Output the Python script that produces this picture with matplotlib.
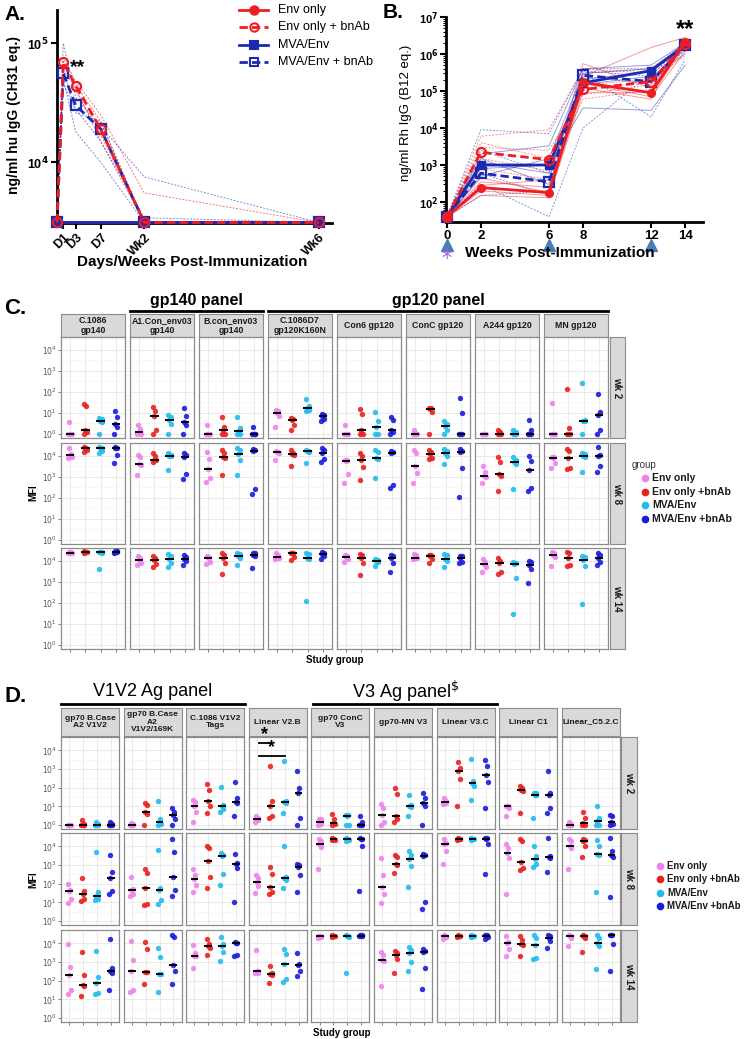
import numpy as np
import matplotlib
matplotlib.use('Agg')
import matplotlib.pyplot as plt
from matplotlib.lines import Line2D
from matplotlib.transforms import blended_transform_factory
from matplotlib.ticker import FixedLocator, NullFormatter

# ---------------- data ----------------
# Panel A: CH31 levels (ng/ml), days post infusion
days_A = [0, 1, 3, 7, 14, 42]
days_A_base = [0, 14, 42]
env_A = [3100, 3100, 3100]
mva_A = [3100, 3100, 3100]
env_bnab_A = [3100, 69000, 44000, 19000, 3100, 3100]
mva_bnab_A = [3100, 56000, 30000, 19000, 3100, 3100]
ind_env_bnab_A = [
    [3100, 75000, 48000, 25000, 5500, 3100],
    [3100, 65000, 45000, 22000, 3100, 3100],
    [3100, 70000, 40000, 17000, 3100, 3100],
    [3100, 60000, 42000, 15000, 3100, 3100],
]
ind_mva_bnab_A = [
    [3100, 100000, 35000, 20000, 7500, 3100],
    [3100, 50000, 18000, 10000, 3100, 3100],
    [3100, 45000, 28000, 15000, 3400, 3100],
    [3100, 60000, 26000, 22000, 3100, 3100],
]
xt_A = [1, 3, 7, 14, 42]
xl_A = ['D1', 'D3', 'D7', 'Wk2', 'Wk6']

# Panel B: Rh IgG (ng/ml), weeks
weeks_B = [0, 2, 6, 8, 12, 14]
env_B = [40, 245, 180, 170000, 90000, 2100000]
env_bnab_B = [40, 2200, 1400, 110000, 180000, 1900000]
mva_B = [40, 1000, 1000, 165000, 355000, 1700000]
mva_bnab_B = [40, 600, 350, 265000, 180000, 1700000]
ind_env_B = [
    [40, 200, 150, 120000, 60000, 2500000],
    [40, 350, 250, 250000, 1500000, 2800000],
    [40, 150, 130, 90000, 90000, 1500000],
    [40, 280, 400, 550000, 120000, 2000000],
    [40, 450, 180, 160000, 70000, 1200000],
]
ind_env_bnab_B = [
    [40, 6000, 9000, 400000, 300000, 2200000],
    [40, 3000, 2500, 80000, 150000, 1800000],
    [40, 1500, 700, 60000, 110000, 2500000],
    [40, 800, 400, 300000, 400000, 1500000],
    [40, 4000, 1500, 150000, 200000, 900000],
]
ind_mva_B = [
    [40, 2000, 3300, 400000, 500000, 2000000],
    [40, 800, 1000, 35000, 30000, 500000],
    [40, 1200, 600, 200000, 350000, 1500000],
    [40, 500, 1500, 300000, 400000, 1800000],
    [40, 1500, 300, 150000, 250000, 1000000],
]
ind_mva_bnab_B = [
    [40, 9000, 7000, 400000, 400000, 2000000],
    [40, 300, 40, 10000, 300000, 1200000],
    [40, 150, 200, 300000, 20000, 700000],
    [40, 600, 150, 250000, 150000, 1600000],
    [40, 2500, 600, 350000, 250000, 2200000],
]
immun_weeks = [0, 6, 12]

groups = ['Env only', 'Env only +bnAb', 'MVA/Env', 'MVA/Env +bnAb']
weeks_lbl = ['wk 2', 'wk 8', 'wk 14']

# Panel C: MFI per antigen, [Env only, Env+bnAb, MVA/Env, MVA/Env+bnAb]
C_antigens = ['C.1086\ngp140', 'A1.Con_env03\ngp140', 'B.con_env03\ngp140',
              'C.1086D7\ngp120K160N', 'Con6 gp120', 'ConC gp120', 'A244 gp120', 'MN gp120']
C_wk2 = [
    [[1, 1, 1, 1, 3.5], [1, 1.2, 1.5, 20, 25], [1, 3.5, 4, 5, 5.5], [1, 2, 3, 6, 12]],
    [[1, 1, 1.2, 1.6, 2.5], [1, 1.5, 7, 12, 18], [1, 3, 4.5, 6, 8], [1, 2.5, 3.5, 7, 17]],
    [[1, 1, 1, 1, 2.5], [1, 1, 1.5, 2, 6.5], [1, 1, 1.4, 1.8, 6], [1, 1, 1, 1, 2]],
    [[2, 7, 10, 12, 14], [1.5, 2.5, 4.5, 5, 5.5], [12, 14, 17, 20, 45], [4, 5, 7, 8, 9]],
    [[1, 1, 1, 1, 2.5], [1, 1, 1.5, 9, 15], [1, 1, 2, 4, 11], [1, 1.2, 1.5, 4.5, 6]],
    [[1, 1, 1, 1, 1.5], [1, 11, 15, 16, 17], [1, 1.5, 2.3, 3, 4], [1, 1, 1, 10, 50]],
    [[1, 1, 1, 1, 1], [1, 1, 1, 1.2, 1.5], [1, 1, 1, 1.2, 1.5], [1, 1, 1, 1.5, 4.5]],
    [[1, 1, 1, 1, 28], [1, 1, 1, 1.8, 140], [1, 4, 4.2, 4.5, 260], [1, 1.5, 8, 11, 75]],
]
C_wk8 = [
    [[7500, 9000, 10500, 12000, 24000], [15000, 18000, 22000, 24000, 26000], [14000, 17000, 22000, 24000, 25000], [4500, 11000, 23000, 24000, 25000]],
    [[1200, 3500, 4200, 9000, 11000], [5000, 6000, 6500, 10000, 13000], [2000, 9500, 10000, 11000, 13000], [800, 1300, 9000, 11000, 13000]],
    [[550, 900, 2200, 7000, 15000], [1200, 8000, 9000, 14000, 18000], [1200, 6500, 12000, 18000, 23000], [150, 270, 17000, 18000, 20000]],
    [[6000, 14000, 14500, 15000, 16000], [3200, 11000, 12000, 14000, 18000], [4500, 15000, 16000, 17000, 18000], [5000, 7000, 13000, 18000, 22000]],
    [[500, 1300, 5500, 6000, 6500], [700, 2800, 6000, 10000, 13000], [850, 7000, 7500, 15000, 18000], [300, 400, 14000, 15000, 17000]],
    [[500, 1500, 3100, 14000, 19000], [7000, 8000, 12000, 15000, 19000], [4000, 10000, 14000, 17000, 20000], [110, 2600, 15000, 17000, 20000]],
    [[500, 1000, 1100, 1700, 3200], [210, 1100, 1400, 5000, 8500], [270, 4000, 5000, 6000, 8500], [210, 300, 2000, 5500, 10000]],
    [[2700, 4500, 8000, 8500, 9000], [2200, 2600, 8000, 16000, 20000], [1600, 9000, 10000, 12000, 13000], [1600, 3200, 10000, 11000, 25000]],
]
C_wk14 = [
    [[22000, 23000, 24000, 25000, 26000], [24000, 25000, 26000, 27000, 28000], [4000, 22000, 25000, 26000, 27000], [22000, 25000, 27000, 28000, 29000]],
    [[6500, 8000, 11000, 13000, 17000], [5000, 7000, 11000, 13000, 17000], [4800, 8000, 12000, 16000, 20000], [6000, 10000, 12000, 15000, 18000]],
    [[7000, 9000, 13000, 15000, 17000], [2400, 8000, 13000, 18000, 22000], [6000, 14000, 16000, 20000, 22000], [4500, 16000, 19000, 22000, 24000]],
    [[12000, 14000, 15000, 18000, 22000], [11000, 15000, 22000, 23000, 24000], [120, 12000, 13000, 20000, 24000], [12000, 16000, 20000, 22000, 25000]],
    [[9000, 12000, 15000, 17000, 18000], [2000, 7500, 13000, 18000, 21000], [5500, 9000, 10000, 11000, 12000], [3000, 8000, 13000, 16000, 18000]],
    [[12000, 13000, 14000, 18000, 20000], [8000, 12000, 17000, 18000, 19000], [5000, 10000, 12000, 18000, 21000], [7500, 9000, 14000, 16000, 17000]],
    [[3000, 5000, 7000, 9000, 12000], [2200, 3000, 7500, 10000, 14000], [30, 1500, 7000, 8000, 9000], [850, 3800, 6500, 9000, 10000]],
    [[5500, 15000, 19000, 22000, 25000], [5500, 6500, 14000, 22000, 25000], [85, 5500, 11000, 15000, 17000], [6000, 9000, 14000, 18000, 22000]],
]

# Panel D
D_antigens = ['gp70 B.Case\nA2 V1V2', 'gp70 B.Case\nA2\nV1V2/169K', 'C.1086 V1V2\nTags', 'Linear V2.B',
              'gp70 ConC\nV3', 'gp70-MN V3', 'Linear V3.C', 'Linear C1', 'Linear_C5.2.C']
D_wk2 = [
    [[1, 1, 1, 1, 1], [1, 1, 1, 1.2, 1.8], [1, 1, 1, 1.2, 1.5], [1, 1, 1, 1.2, 1.5]],
    [[1, 1, 1, 1.2, 1.3], [1, 4, 5, 12, 15], [1, 1.2, 1.5, 2, 20], [1, 2, 3.5, 5, 8]],
    [[1.5, 5, 10, 18, 22], [4.5, 10, 20, 80, 150], [5, 7, 10, 12, 110], [3, 15, 18, 30, 200]],
    [[1.5, 1.8, 2, 2.5, 3], [2.5, 3, 11, 20, 1400], [4.5, 16, 18, 20, 2800], [1, 2.5, 50, 100, 750]],
    [[1, 1.2, 1.4, 2, 2.2], [1, 1.2, 1.3, 2, 4], [1, 1, 3.2, 3.3, 3.5], [1, 1, 1, 1.5, 3]],
    [[1, 1.5, 3.3, 8, 14], [1.5, 2, 3, 45, 95], [3, 9, 10, 12, 40], [1, 11, 15, 30, 55]],
    [[14, 15, 17, 20, 30], [10, 300, 800, 1200, 2500], [23, 120, 180, 240, 3500], [8, 200, 480, 1400, 3000]],
    [[3, 8, 10, 10, 11], [4.5, 70, 80, 100, 130], [2.5, 40, 42, 50, 55], [4.5, 8, 40, 50, 750]],
    [[1, 1, 1, 1.2, 1.5], [1, 1, 1.3, 2.5, 5], [1, 1, 1.6, 2.5, 11], [1, 1.2, 1.5, 3, 3.5]],
]
D_wk8 = [
    [[9, 15, 40, 45, 95], [12, 15, 27, 40, 200], [13, 15, 21, 35, 5000], [28, 40, 210, 430, 3300]],
    [[22, 30, 45, 50, 220], [7, 8, 60, 400, 600], [8, 13, 45, 60, 6800], [22, 45, 220, 5000, 24000]],
    [[35, 90, 170, 300, 600], [60, 220, 1700, 8000, 10000], [90, 350, 3000, 3500, 4500], [10, 700, 1200, 1300, 3800]],
    [[33, 80, 130, 200, 300], [30, 35, 65, 350, 750], [60, 150, 200, 230, 10000], [38, 300, 800, 1000, 1200]],
    [[600, 9000, 13000, 20000, 24000], [22000, 23000, 25000, 26000, 27000], [20000, 22000, 25000, 26000, 27000], [42, 11000, 25000, 26000, 27000]],
    [[9, 30, 65, 300, 2500], [380, 1000, 1150, 2800, 3300], [65, 900, 2100, 3500, 6000], [4.5, 10, 3000, 3300, 3800]],
    [[1100, 6000, 14000, 16000, 24000], [23000, 24000, 25000, 26000, 27000], [23000, 24000, 25000, 26000, 27000], [330, 13000, 26000, 27000, 28000]],
    [[30, 2500, 4700, 8000, 14000], [550, 700, 1500, 20000, 24000], [800, 1200, 2100, 3000, 11000], [430, 2500, 2800, 3000, 27000]],
    [[650, 8000, 11000, 20000, 25000], [2700, 11000, 20000, 22000, 24000], [37, 3500, 3700, 10000, 22000], [20, 2800, 3500, 6000, 27000]],
]
D_wk14 = [
    [[19, 32, 210, 550, 9500], [15, 50, 60, 210, 3500], [19, 22, 80, 160, 3800], [32, 250, 320, 500, 17000]],
    [[25, 32, 320, 1300, 14000], [65, 300, 310, 5000, 12000], [25, 230, 240, 1800, 5500], [65, 330, 700, 22000, 27000]],
    [[500, 2000, 2200, 3200, 8500], [2500, 6000, 7000, 9000, 18000], [1200, 3500, 7000, 9000, 22000], [2200, 2400, 10500, 11000, 12000]],
    [[250, 270, 330, 350, 4300], [80, 200, 220, 250, 600], [90, 120, 800, 2800, 5000], [190, 350, 700, 800, 3200]],
    [[20000, 22000, 24000, 25000, 26000], [23000, 24000, 25000, 26000, 27000], [270, 22000, 25000, 26000, 27000], [24000, 25000, 26000, 27000, 28000]],
    [[55, 1100, 1300, 2500, 3300], [250, 1400, 2500, 3000, 4000], [350, 1000, 3000, 4500, 6500], [35, 500, 3500, 4000, 5000]],
    [[18000, 22000, 25000, 26000, 27000], [22000, 24000, 25000, 26000, 27000], [22000, 24000, 25000, 26000, 27000], [18000, 22000, 26000, 27000, 28000]],
    [[2000, 5000, 10000, 12000, 25000], [2000, 8000, 9000, 15000, 26000], [1500, 1700, 8500, 20000, 27000], [6000, 13000, 20000, 25000, 27000]],
    [[7000, 20000, 25000, 26000, 27000], [3600, 20000, 25000, 26000, 27000], [420, 7000, 11000, 20000, 27000], [320, 9500, 27000, 28000, 29000]],
]

# ---------------- style ----------------
RED = '#EE1D23'
BLUE = '#1B2AB0'
GCOL = ['#EE82EE', '#E8201F', '#20BCEE', '#1A1ADC']
NARROW = ['Liberation Sans Narrow', 'Liberation Sans', 'DejaVu Sans']
ARIAL = ['Liberation Sans', 'DejaVu Sans']
JIT = [-0.12, 0.10, -0.03, 0.06, -0.08]

W, H = 745, 1039
fig = plt.figure(figsize=(W / 100, H / 100), dpi=100)


def ax_px(l, t, w, h):
    return fig.add_axes([l / W, 1 - (t + h) / H, w / W, h / H])


def ftext(x, y, s, **kw):
    return fig.text(x / W, 1 - y / H, s, **kw)


# ---------------- Panel A ----------------
axA = ax_px(57, 10, 275, 213)
axA.set_yscale('log')
axA.set_xlim(0, 44.1)
axA.set_ylim(3070, 10 ** 5.28)
for v in ind_env_bnab_A:
    axA.plot(days_A, v, color=RED, lw=0.7, ls=(0, (2, 1.5)), alpha=0.6, zorder=2)
for v in ind_mva_bnab_A:
    axA.plot(days_A, v, color=BLUE, lw=0.7, ls=(0, (2, 1.5)), alpha=0.55, zorder=2)
axA.plot(days_A_base, env_A, color=RED, lw=2, marker='o', ms=5.5, clip_on=False, zorder=4)
axA.plot(days_A_base, mva_A, color=BLUE, lw=2, marker='s', ms=5.5, clip_on=False, zorder=4)
axA.plot(days_A, mva_bnab_A, color=BLUE, lw=2, ls=(0, (3, 1.5)), marker='s', ms=6.5,
         mfc='none', mew=1.6, clip_on=False, zorder=5)
axA.plot(days_A, env_bnab_A, color=RED, lw=2, ls=(0, (3, 1.5)), marker='o', ms=6.5,
         mfc='none', mew=1.6, clip_on=False, zorder=6)
for s in ['top', 'right']:
    axA.spines[s].set_visible(False)
for s in ['left', 'bottom']:
    axA.spines[s].set_linewidth(2)
axA.set_yticks([1e4, 1e5])
axA.set_yticklabels(['10$^\\mathbf{4}$', '10$^\\mathbf{5}$'], fontsize=9, fontweight='bold', family=ARIAL)
axA.yaxis.set_minor_locator(FixedLocator([]))
axA.set_xticks(xt_A)
axA.set_xticklabels(xl_A, rotation=45, ha='right', rotation_mode='anchor', fontsize=9,
                    fontweight='bold', family=ARIAL)
axA.tick_params(axis='both', direction='out', length=4, width=1.5, pad=2)
axA.text(2.0, 62000, '**', fontsize=14, fontweight='bold', family=ARIAL, va='center')
ftext(14, 115, 'ng/ml hu IgG (CH31 eq.)', rotation=90, ha='center', va='center',
      fontsize=10, fontweight='bold', family=ARIAL)
ftext(192, 262, 'Days/Weeks Post-Immunization', ha='center', va='center',
      fontsize=11, fontweight='bold', family=ARIAL)
ftext(4, 14, 'A.', fontsize=15, fontweight='bold', family=ARIAL, va='center')

# legend A (manual)
legA = ax_px(235, 0, 135, 75)
legA.set_xlim(0, 135)
legA.set_ylim(75, 0)
legA.axis('off')
leg_specs = [('Env only', RED, '-', 'o', RED),
             ('Env only + bnAb', RED, (0, (3, 1.5)), 'o', 'none'),
             ('MVA/Env', BLUE, '-', 's', BLUE),
             ('MVA/Env + bnAb', BLUE, (0, (3, 1.5)), 's', 'none')]
for i, (lab, c, ls, mk, fc) in enumerate(leg_specs):
    y = 10 + i * 17.3
    legA.plot([4, 33], [y, y], color=c, lw=2, ls=ls)
    legA.plot([18.5], [y], marker=mk, ms=6, color=c, mfc=fc, mew=1.5)
    legA.text(43, y, lab, fontsize=9, family=ARIAL, va='center')

# ---------------- Panel B ----------------
axB = ax_px(446, 17, 257, 205)
axB.set_yscale('log')
axB.set_xlim(-0.05, 15.05)
axB.set_ylim(10 ** 1.46, 1e7)
for v in ind_env_B:
    axB.plot(weeks_B, v, color=RED, lw=0.7, alpha=0.45, zorder=2)
for v in ind_env_bnab_B:
    axB.plot(weeks_B, v, color=RED, lw=0.7, ls=(0, (2, 1.5)), alpha=0.5, zorder=2)
for v in ind_mva_B:
    axB.plot(weeks_B, v, color=BLUE, lw=0.7, alpha=0.45, zorder=2)
for v in ind_mva_bnab_B:
    axB.plot(weeks_B, v, color=BLUE, lw=0.7, ls=(0, (2, 1.5)), alpha=0.5, zorder=2)
axB.plot(weeks_B, mva_B, color=BLUE, lw=2, marker='s', ms=5.5, clip_on=False, zorder=5)
axB.plot(weeks_B, mva_bnab_B, color=BLUE, lw=2, ls=(0, (3, 1.5)), marker='s', ms=6.5,
         mfc='none', mew=1.6, clip_on=False, zorder=5)
axB.plot(weeks_B, env_bnab_B, color=RED, lw=2, ls=(0, (3, 1.5)), marker='o', ms=6.5,
         mfc='none', mew=1.6, clip_on=False, zorder=6)
axB.plot(weeks_B, env_B, color=RED, lw=2, marker='o', ms=5.5, clip_on=False, zorder=6)
for s in ['top', 'right']:
    axB.spines[s].set_visible(False)
for s in ['left', 'bottom']:
    axB.spines[s].set_linewidth(2)
axB.set_yticks([1e2, 1e3, 1e4, 1e5, 1e6, 1e7])
axB.set_yticklabels(['10$^\\mathbf{%d}$' % k for k in range(2, 8)], fontsize=8,
                    fontweight='bold', family=ARIAL)
axB.set_xticks(weeks_B)
axB.set_xticklabels([str(w) for w in weeks_B], fontsize=9.5, fontweight='bold', family=ARIAL)
axB.tick_params(axis='both', which='major', direction='out', length=4, width=1.5, pad=1.5)
axB.tick_params(axis='y', which='minor', direction='out', length=2, width=0.8)
axB.yaxis.set_minor_formatter(NullFormatter())
axB.text(14, 4.5e6, '**', fontsize=17, fontweight='bold', family=ARIAL, ha='center', va='center')
trB = blended_transform_factory(axB.transData, fig.transFigure)
axB.plot(immun_weeks, [1 - 245 / H] * len(immun_weeks), transform=trB, ls='none', marker='^',
         ms=9, color='#4A7CB8', clip_on=False)
axB.text(0, 1 - 259 / H, '*', transform=trB, fontsize=15, color='#B45EE6', ha='center', va='center')
ftext(406, 113, 'ng/ml Rh IgG (B12 eq.)', rotation=90, ha='center', va='center',
      fontsize=9.5, family=ARIAL)
ftext(560, 253, 'Weeks Post-Immunization', ha='center', va='center', fontsize=11,
      fontweight='bold', family=ARIAL)
ftext(383, 13, 'B.', fontsize=15, fontweight='bold', family=ARIAL, va='center')


# ---------------- facet grids (C, D) ----------------
def facet_grid(data_rows, names, col_left, col_step, col_w, strip_top, strip_h,
               row_tops, row_h, rstrip_l, rstrip_w, ylo, yhi, strip_fs, sig=None):
    ncol = len(names)
    for c in range(ncol):
        x0 = col_left + c * col_step
        sa = ax_px(x0, strip_top, col_w, strip_h)
        sa.set_facecolor('#D9D9D9')
        sa.set_xticks([]); sa.set_yticks([])
        for sp in sa.spines.values():
            sp.set_color('#8C8C8C'); sp.set_linewidth(0.8)
        sa.text(0.5, 0.5, names[c], ha='center', va='center', fontsize=strip_fs,
                fontweight='bold', family=NARROW, color='#1A1A1A', linespacing=1.05,
                transform=sa.transAxes)
    for r, row in enumerate(data_rows):
        for c in range(ncol):
            x0 = col_left + c * col_step
            ax = ax_px(x0, row_tops[r], col_w, row_h)
            ax.set_yscale('log')
            ax.set_xlim(0.4, 4.6)
            ax.set_ylim(10 ** ylo, 10 ** yhi)
            ax.yaxis.set_major_locator(FixedLocator([1, 10, 100, 1000, 10000]))
            ax.yaxis.set_minor_locator(FixedLocator([10 ** (k + 0.5) for k in range(-1, 5)]))
            ax.yaxis.set_minor_formatter(NullFormatter())
            ax.set_xticks([1, 2, 3, 4])
            ax.grid(which='major', color='#E6E6E6', lw=0.6)
            ax.grid(which='minor', axis='y', color='#F3F3F3', lw=0.4)
            ax.set_axisbelow(True)
            for sp in ax.spines.values():
                sp.set_color('#8C8C8C'); sp.set_linewidth(0.9)
            ax.tick_params(which='minor', length=0)
            ax.tick_params(axis='x', length=2 if r == len(data_rows) - 1 else 0,
                           width=0.5, color='#4D4D4D', labelbottom=False)
            if c == 0:
                ax.set_yticklabels(['$10^{%d}$' % k for k in range(5)])
                ax.tick_params(axis='y', length=2, width=0.5, color='#4D4D4D',
                               labelsize=5.5, labelcolor='#555555', pad=1)
            else:
                ax.tick_params(axis='y', length=0, labelleft=False)
            for g in range(4):
                vals = row[c][g]
                xs = [g + 1 + JIT[i % len(JIT)] for i in range(len(vals))]
                ax.scatter(xs, vals, s=15, color=GCOL[g], alpha=0.9, linewidths=0, zorder=3,
                           clip_on=False)
                med = float(np.median(vals))
                ax.plot([g + 1 - 0.28, g + 1 + 0.28], [med, med], color='black', lw=1.4,
                        zorder=4, solid_capstyle='butt')
            if sig is not None and r == 0 and c == sig['col']:
                for (xa, xb, yv, xs_) in sig['bars']:
                    ax.plot([xa, xb], [yv, yv], color='black', lw=1.3, clip_on=False, zorder=5)
                    ax.text(xs_, yv * 1.05, '*', fontsize=13, fontweight='bold', ha='center',
                            va='bottom', clip_on=False, family=ARIAL)
        ra = ax_px(rstrip_l, row_tops[r], rstrip_w, row_h)
        ra.set_facecolor('#D9D9D9')
        ra.set_xticks([]); ra.set_yticks([])
        for sp in ra.spines.values():
            sp.set_color('#8C8C8C'); sp.set_linewidth(0.8)
        ra.text(0.5, 0.5, weeks_lbl[r], rotation=270, ha='center', va='center', fontsize=7,
                fontweight='bold', family=NARROW, color='#1A1A1A', transform=ra.transAxes)


# Panel C
facet_grid([C_wk2, C_wk8, C_wk14], C_antigens, 61, 69, 64, 314, 23, [337, 443, 548], 101,
           610, 15, -0.2, 4.6, 6.3)
ftext(4, 308, 'C.', fontsize=16, fontweight='bold', family=ARIAL, va='center')
ftext(196, 301, 'gp140 panel', fontsize=11.5, fontweight='bold', family=ARIAL, ha='center', va='center')
ftext(438, 301, 'gp120 panel', fontsize=11.5, fontweight='bold', family=ARIAL, ha='center', va='center')
fig.add_artist(Line2D([130 / W, 263 / W], [1 - 311 / H, 1 - 311 / H], color='black', lw=2))
fig.add_artist(Line2D([268 / W, 608 / W], [1 - 311 / H, 1 - 311 / H], color='black', lw=2))
ftext(33, 493, 'MFI', rotation=90, fontsize=7, fontweight='bold', family=NARROW, ha='center', va='center')
ftext(335, 660, 'Study group', fontsize=7, fontweight='bold', family=NARROW, ha='center', va='center')
ftext(632, 465, 'group', fontsize=7, family=NARROW, color='#333333', va='center')
for i, g in enumerate(groups):
    y = 478 + i * 13.7
    fig.add_artist(Line2D([645 / W], [1 - y / H], marker='o', ms=4.5, color=GCOL[i], ls='none'))
    ftext(652, y, g, fontsize=7.5, fontweight='bold', family=NARROW, va='center', color='#1A1A1A')

# Panel D
sigD = {'col': 3, 'bars': [(1.15, 1.85, 10 ** 4.39, 1.55), (1.12, 3.0, 10 ** 3.68, 2.05)]}
facet_grid([D_wk2, D_wk8, D_wk14], D_antigens, 61, 62.6, 58, 708, 28, [737, 833, 930], 92,
           621, 16, -0.21, 4.72, 6.0, sig=sigD)
ftext(4, 697, 'D.', fontsize=16, fontweight='bold', family=ARIAL, va='center')
ftext(153, 691, 'V1V2 Ag panel', fontsize=13, family=NARROW, ha='center', va='center')
ftext(406, 691, 'V3 Ag panel$^{\\$}$', fontsize=13, family=NARROW, ha='center', va='center')
fig.add_artist(Line2D([61 / W, 245 / W], [1 - 704 / H, 1 - 704 / H], color='black', lw=2))
fig.add_artist(Line2D([313 / W, 497 / W], [1 - 704 / H, 1 - 704 / H], color='black', lw=2))
ftext(33, 880, 'MFI', rotation=90, fontsize=7, fontweight='bold', family=NARROW, ha='center', va='center')
ftext(342, 1033, 'Study group', fontsize=7, fontweight='bold', family=NARROW, ha='center', va='center')
for i, g in enumerate(groups):
    y = 866 + i * 13.3
    fig.add_artist(Line2D([660 / W], [1 - y / H], marker='o', ms=4.5, color=GCOL[i], ls='none'))
    ftext(667, y, g, fontsize=6.9, fontweight='bold', family=NARROW, va='center', color='#1A1A1A')

fig.savefig('out.png', dpi=100)
